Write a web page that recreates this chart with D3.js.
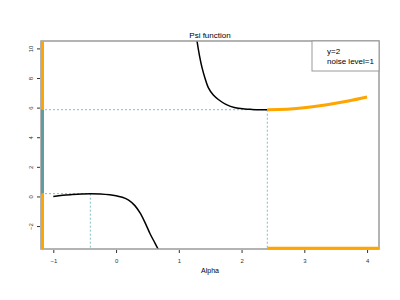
<!DOCTYPE html>
<html>
<head>
<meta charset="utf-8">
<title>Psi function</title>
<script src="https://d3js.org/d3.v7.min.js"></script>
<style>
  body { margin: 0; background: #fff; }
  text { font-family: "Liberation Sans", Arial, sans-serif; }
</style>
</head>
<body>
<script>
// psi curve
var lowAlpha = [-1.0, -0.85, -0.7, -0.55, -0.41, -0.25, -0.1, 0.0, 0.1, 0.2, 0.3, 0.38, 0.46, 0.54, 0.62, 0.675]
var lowPsi   = [0.0, 0.08, 0.13, 0.17, 0.19, 0.17, 0.11, 0.04, -0.06, -0.25, -0.62, -1.1, -1.75, -2.5, -3.15, -3.6]

var highAlpha = [1.27, 1.29, 1.33, 1.37, 1.42, 1.47, 1.55, 1.63, 1.75, 1.9, 2.05, 2.16, 2.3, 2.41]
var highPsi   = [11.2, 10.5, 9.5, 8.7, 7.95, 7.35, 6.85, 6.55, 6.22, 5.99, 5.91, 5.88, 5.86, 5.86]

var orangeAlpha = [2.41, 2.6, 2.83, 3.1, 3.36, 3.7, 4.0]
var orangePsi   = [5.86, 5.87, 5.92, 6.04, 6.2, 6.45, 6.72]

var localMax = [-0.41, 0.19]
var localMin = [2.41, 5.86]

var xTicks = [-1, 0, 1, 2, 3, 4]
var yTicks = [-2, 0, 2, 4, 6, 8, 10]
var legendLines = ["y=2", "noise level=1"]

var width = 400, height = 300
var mLeft = 41, mRight = 379, mTop = 41, mBottom = 249

var svg = d3.select("body").append("svg").attr("width", width).attr("height", height)

var x = d3.scaleLinear().domain([-1.196, 4.19]).range([mLeft, mRight])
var y = d3.scaleLinear().domain([-3.55, 10.5]).range([mBottom, mTop])

svg.append("clipPath").attr("id", "clip")
    .append("rect").attr("x", mLeft).attr("y", mTop).attr("width", mRight - mLeft).attr("height", mBottom - mTop)

var plot = svg.append("g").attr("clip-path", "url(#clip)")

var line = d3.line().x(function(d){ return x(d[0]) }).y(function(d){ return y(d[1]) }).curve(d3.curveCatmullRom.alpha(0.5))
function pairs(a, b){ return a.map(function(v, i){ return [v, b[i]] }) }

var dashColor = "#7ec0c4"

// dashed guides
function guide(pt){
    plot.append("line").attr("x1", mLeft).attr("x2", x(pt[0]))
        .attr("y1", y(pt[1])).attr("y2", y(pt[1]))
        .attr("stroke", dashColor).attr("stroke-dasharray", "2,2").attr("stroke-width", 1)
    plot.append("line").attr("x1", x(pt[0])).attr("x2", x(pt[0]))
        .attr("y1", y(pt[1])).attr("y2", mBottom)
        .attr("stroke", dashColor).attr("stroke-dasharray", "2,2").attr("stroke-width", 1)
}
guide(localMax)
guide(localMin)

plot.append("path").attr("d", line(pairs(lowAlpha, lowPsi)))
    .attr("fill", "none").attr("stroke", "black").attr("stroke-width", 1.5)
plot.append("path").attr("d", line(pairs(highAlpha, highPsi)))
    .attr("fill", "none").attr("stroke", "black").attr("stroke-width", 1.5)
plot.append("path").attr("d", line(pairs(orangeAlpha, orangePsi)))
    .attr("fill", "none").attr("stroke", "orange").attr("stroke-width", 3)

// box
svg.append("rect").attr("x", mLeft).attr("y", mTop).attr("width", mRight - mLeft).attr("height", mBottom - mTop)
    .attr("fill", "none").attr("stroke", "#9a9a9a").attr("stroke-width", 1.5)

// range markers on the axes
var yMaxVal = y.domain()[1], yMinVal = y.domain()[0]
svg.append("line").attr("x1", mLeft + 1.5).attr("x2", mLeft + 1.5)
    .attr("y1", y(yMaxVal)).attr("y2", y(localMin[1]))
    .attr("stroke", "orange").attr("stroke-width", 3)
svg.append("line").attr("x1", mLeft + 1.5).attr("x2", mLeft + 1.5)
    .attr("y1", y(localMin[1])).attr("y2", y(localMax[1]))
    .attr("stroke", "#5f9ea0").attr("stroke-width", 3)
svg.append("line").attr("x1", mLeft + 1.5).attr("x2", mLeft + 1.5)
    .attr("y1", y(localMax[1])).attr("y2", y(yMinVal))
    .attr("stroke", "orange").attr("stroke-width", 3)
svg.append("line").attr("x1", x(localMin[0])).attr("x2", mRight)
    .attr("y1", mBottom - 1).attr("y2", mBottom - 1)
    .attr("stroke", "orange").attr("stroke-width", 2.5)

// axes
var xAxis = svg.append("g").attr("transform", "translate(0," + (mBottom + 1) + ")")
    .call(d3.axisBottom(x).tickValues(xTicks).tickSize(3).tickPadding(6).tickFormat(d3.format("d")))
xAxis.select(".domain").remove()
xAxis.selectAll("text").attr("font-size", 6).attr("fill", "#333")
xAxis.selectAll("line").attr("stroke", "#333")

var yAxis = svg.append("g").attr("transform", "translate(" + (mLeft - 1) + ",0)")
    .call(d3.axisLeft(y).tickValues(yTicks).tickSize(3).tickFormat(d3.format("d")))
yAxis.select(".domain").remove()
yAxis.selectAll("line").attr("stroke", "#333")
yAxis.selectAll("text")
    .attr("font-size", 6).attr("fill", "#333")
    .attr("x", null).attr("dy", null)
    .attr("text-anchor", "middle")
    .attr("transform", "translate(-7,0) rotate(-90)")

// titles
svg.append("text").attr("x", 210).attr("y", 38).attr("text-anchor", "middle")
    .attr("font-size", 8).attr("fill", "black").text("Psi function")
svg.append("text").attr("x", 210).attr("y", 273).attr("text-anchor", "middle")
    .attr("font-size", 7).attr("fill", "black").text("Alpha")

// legend
svg.append("rect").attr("x", 312).attr("y", mTop).attr("width", mRight - 312).attr("height", 30)
    .attr("fill", "white").attr("stroke", "#9a9a9a").attr("stroke-width", 1)
svg.selectAll(".leg").data(legendLines).enter().append("text")
    .attr("x", 327).attr("y", function(d, i){ return 54 + i * 10 })
    .attr("font-size", 8).attr("fill", "black").text(function(d){ return d })
</script>
</body>
</html>
